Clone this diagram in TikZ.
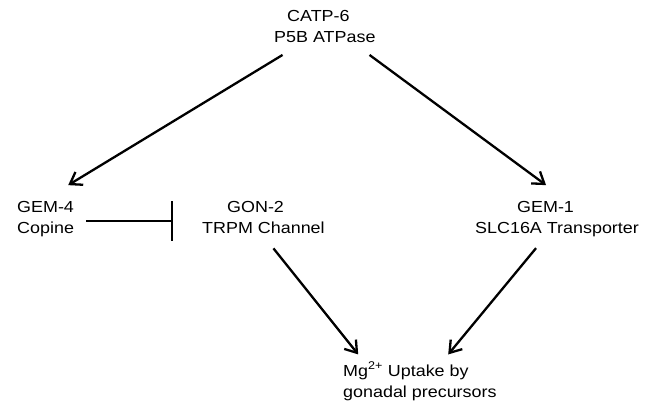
\documentclass[tikz,border=0pt]{standalone}
\usepackage{graphicx}
\usepackage{fontspec}
\setmainfont{Liberation Sans}
\usetikzlibrary{arrows.meta}

% labels are set in a slightly widened sans face
\newcommand\wide[1]{\scalebox{1.12}[1]{#1}}

\tikzset{
  lbl/.style={anchor=base west, inner sep=0pt, align=left,
              font=\fontsize{16pt}{21pt}\selectfont},
  act/.style={line width=2.3pt, -{Straight Barb[length=11pt,width=15pt,line width=2.3pt]}},
  inhibit/.style={line width=2.3pt, -{Bar[width=40pt,line width=2.3pt]}}
}

\begin{document}
\begin{tikzpicture}[x=1pt, y=-1pt]
  \path[use as bounding box, fill=white] (0,0) rectangle (652,408);

  % genes / proteins (anchored at the baseline of their last line)
  \node[lbl] (catp) at (274,42) {\hspace*{13pt}\wide{CATP-6}\\\wide{P5B ATPase}};
  \node[lbl] (gem4) at (17,233) {\wide{GEM-4}\\\wide{Copine}};
  \node[lbl] (gon2) at (202,233) {\hspace*{25pt}\wide{GON-2}\\\wide{TRPM Channel}};
  \node[lbl] (gem1) at (475,233) {\hspace*{42pt}\wide{GEM-1}\\\wide{SLC16A Transporter}};
  \node[lbl] (mg)   at (343,397) {\wide{Mg\textsuperscript{2+} Uptake by}\\\wide{gonadal precursors}};

  % activating interactions
  \draw[act] ([xshift=-42.3pt,yshift=-12.6pt]catp.south) -- ([xshift=22.6pt,yshift=15.5pt]gem4.north);
  \draw[act] ([xshift=44.7pt,yshift=-12.6pt]catp.south)  -- ([xshift=-11pt,yshift=15.5pt]gem1.north);
  \draw[act] ([xshift=10pt,yshift=-15pt]gon2.south)      -- ([xshift=-61.7pt,yshift=7.3pt]mg.north);
  \draw[act] ([xshift=-21pt,yshift=-11.6pt]gem1.south)   -- ([xshift=28.3pt,yshift=7.3pt]mg.north);

  % inhibition of GON-2 by GEM-4
  \coordinate (inhstart) at ([xshift=12pt,yshift=-2.5pt]gem4.east);
  \draw[inhibit] (inhstart) -- ([xshift=-29pt]gon2.west |- inhstart);
\end{tikzpicture}
\end{document}
